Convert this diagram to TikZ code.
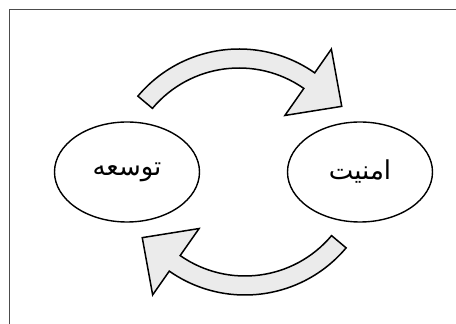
\documentclass[tikz,border=0pt]{standalone}
\usepackage{fontspec}
\usetikzlibrary{shapes.geometric}
\newfontfamily\arabicfont[Script=Arabic]{DejaVu Sans}
\TeXXeTstate=1

\begin{document}
\begin{tikzpicture}[x=1pt,y=1pt,
    bubble/.style={draw, ellipse, line width=1.4pt, minimum width=145pt, minimum height=100pt,
                   inner sep=0pt, font=\arabicfont\fontsize{26}{30}\selectfont},
    bentarrow/.style={draw, line width=1.5pt, fill=gray!16, line join=miter}]
    \useasboundingbox (0,0) rectangle (456,324);
    %% frame
    \draw[gray!60!black, line width=1pt] (9,-2) -- (9,314) -- (458,314);
    %% ellipses
    \node[bubble] (tose) at (127,152) {\beginR توسعه\endR};
    \node[bubble] (amniat) at (360,152) {\beginR امنیت\endR};
    %% upper arrow
    \begin{scope}[shift={(239,143)}]
        \draw[bentarrow] (140:132) arc (140:55:132) -- (55:161) -- (36:127)
            -- (55:80) -- (55:113) arc (55:140:113) -- cycle;
    \end{scope}
    %% lower arrow
    \begin{scope}[shift={(245,161)}, rotate=180]
        \draw[bentarrow] (140:132) arc (140:55:132) -- (55:161) -- (36:127)
            -- (55:80) -- (55:113) arc (55:140:113) -- cycle;
    \end{scope}
\end{tikzpicture}
\end{document}
